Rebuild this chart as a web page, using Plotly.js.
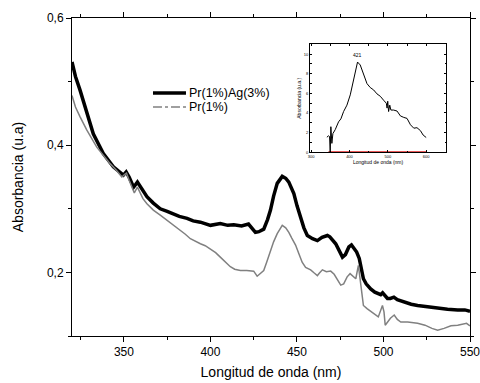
<!DOCTYPE html>
<html><head><meta charset="utf-8">
<script src="https://cdn.plot.ly/plotly-3.0.1.min.js"></script>
<style>html,body{margin:0;padding:0;background:#fff}#chart{width:480px;height:383px}</style>
</head><body><div id="chart"></div>
<script>
// Main spectra: wavelength (nm) and absorbance (u.a)
const agX = [320,322,324.6,328.5,332.3,338.1,343.9,349.7,351.3,353,355.6,357.8,360,363.3,367,371,375,378.7,382,386.5,390,394.2,400,405.7,410,413.5,418,422,424,426,428,430.8,433,434.7,436.5,438.6,441.5,443.5,445.3,448.2,450,452.1,454,456,459,461.8,464.5,467.6,469,472.4,474.5,476.3,478,480,481.5,483,484.5,486,487.5,488.4,490,492.6,495,498.4,499.5,500.5,502.3,504,506,508,512,516,519.7,525,531.3,537,542.9,547,550];
const agY = [0.531,0.508,0.487,0.450,0.418,0.387,0.366,0.353,0.358,0.350,0.334,0.342,0.332,0.319,0.309,0.300,0.296,0.292,0.288,0.285,0.281,0.279,0.274,0.277,0.274,0.275,0.273,0.276,0.270,0.263,0.264,0.268,0.283,0.298,0.320,0.340,0.351,0.348,0.342,0.324,0.305,0.287,0.270,0.258,0.253,0.250,0.255,0.258,0.256,0.245,0.232,0.224,0.228,0.240,0.243,0.237,0.232,0.222,0.200,0.190,0.182,0.174,0.169,0.165,0.168,0.164,0.159,0.159,0.161,0.157,0.153,0.150,0.148,0.146,0.143,0.142,0.141,0.141,0.139];
const prX = [320,322,324.6,328.5,334.3,338,342,345.5,348.8,350.5,351.5,353,355,356,357.8,359,361,363.3,367,371,374,376.8,380,382.6,385.5,388.4,391,394.2,397,400,403,405.7,408.5,411.5,414,417.3,421,425,427,428.5,430.8,432.5,434.7,436.5,438.6,441.5,443.5,445.3,447,449.2,451,453,455,457.9,460,461.8,463,464.7,467,469.5,471.5,473.5,475.3,477,479,480.7,482.5,484,485.5,486.5,487.5,488.4,490.5,492.5,494.6,497,499.4,500.3,501,502.5,504,506.2,508,510,514,519.7,524,528,531.3,535,539,542.9,546,548,550];
const prY = [0.478,0.460,0.445,0.424,0.397,0.384,0.371,0.361,0.350,0.354,0.356,0.345,0.332,0.325,0.334,0.328,0.316,0.308,0.298,0.290,0.284,0.277,0.271,0.266,0.260,0.253,0.249,0.245,0.242,0.237,0.231,0.224,0.216,0.209,0.205,0.203,0.203,0.202,0.194,0.198,0.203,0.216,0.235,0.248,0.261,0.274,0.270,0.263,0.254,0.243,0.230,0.216,0.208,0.204,0.199,0.195,0.199,0.204,0.201,0.202,0.197,0.187,0.180,0.182,0.193,0.198,0.194,0.190,0.211,0.190,0.160,0.148,0.143,0.139,0.135,0.130,0.148,0.138,0.117,0.122,0.128,0.133,0.126,0.122,0.122,0.120,0.117,0.112,0.109,0.112,0.116,0.117,0.119,0.120,0.116];
// Inset spectrum
const inX = [341,345.3,348,349.7,351.4,354,356.7,362.8,371.5,377.6,384.6,393.3,402,409,415,421,428,437,445.6,454,463,471.7,480.5,489,496,498,499.7,502,505,508,515,524,532.8,541.5,550,559,567.7,576,585,592,600];
const inY = [1.53,1.67,1.6,0,2.6,0.9,1.9,2.3,3.1,3.4,4.15,4.8,5.85,7.0,8.2,9.2,8.9,7.9,7.0,6.6,6.35,5.95,5.7,5.3,5.0,4.5,5.2,4.15,4.8,4.3,4.3,4.2,3.7,3.55,3.45,2.8,2.45,2.5,2.2,1.75,1.5];
const baseX = [345, 600];
const baseY = [0, 0];
const peakX = 421, peakY = 9.2, peakLabel = '421';
const names = ['Pr(1%)Ag(3%)', 'Pr(1%)'];

const F = 'Liberation Sans, Arial, sans-serif';
const traces = [
  {x: agX, y: agY, type:'scatter', mode:'lines', name:names[0], line:{color:'#000', width:3.5}, xaxis:'x', yaxis:'y'},
  {x: prX, y: prY, type:'scatter', mode:'lines', name:names[1], line:{color:'#808080', width:1.5}, xaxis:'x', yaxis:'y'},
  {x: baseX, y: baseY, type:'scatter', mode:'lines', line:{color:'#e02020', width:2}, xaxis:'x2', yaxis:'y2'},
  {x: inX, y: inY, type:'scatter', mode:'lines', line:{color:'#000', width:1}, xaxis:'x2', yaxis:'y2'}
];
const axCommon = {showline:true, linecolor:'#000', linewidth:1, mirror:'ticks', ticks:'outside', tickcolor:'#000', showgrid:false, zeroline:false, ticklabeloverflow:'allow'};
// custom compact legend (paper coords)
const legRows = [
  {y:0.764, color:'#000', width:3.5, dash:'solid'},
  {y:0.720, color:'#808080', width:1.5, dash:'dashdot'}
];
const shapes = legRows.map(r => ({type:'line', xref:'paper', yref:'paper', x0:0.2035, x1:0.2864, y0:r.y, y1:r.y, line:{color:r.color, width:r.width, dash:r.dash}}));
const legAnn = legRows.map((r,i) => ({xref:'paper', yref:'paper', x:0.292, y:r.y, xanchor:'left', yanchor:'middle', text:names[i], showarrow:false, borderpad:0, font:{size:12.5, family:F, color:'#000'}}));
const layout = {
  width:480, height:383,
  margin:{l:72, r:10, t:18, b:47},
  paper_bgcolor:'#fff', plot_bgcolor:'#fff',
  separators:',.',
  font:{family:F, color:'#000', size:12},
  showlegend:false,
  shapes: shapes,
  xaxis: Object.assign({}, axCommon, {range:[320,550], dtick:50, tick0:350, ticklen:5, tickfont:{size:12},
    minor:{dtick:25, tick0:325, ticks:'outside', ticklen:3, tickcolor:'#000'},
    title:{text:'Longitud de onda (nm)', font:{size:14}, standoff:8}}),
  yaxis: Object.assign({}, axCommon, {range:[0.1,0.6], dtick:0.2, tick0:0.2, tickformat:'.1f', ticklen:5, tickfont:{size:12},
    minor:{dtick:0.1, tick0:0.1, ticks:'outside', ticklen:3, tickcolor:'#000'},
    title:{text:'Absorbancia (u.a)', font:{size:14}, standoff:20}}),
  xaxis2: Object.assign({}, axCommon, {domain:[0.598,0.940], anchor:'y2', range:[297,652], dtick:100, tick0:300, ticklen:2, tickfont:{size:4},
    ticks:'inside', minor:{dtick:50, ticks:'inside', ticklen:1.5, tickcolor:'#000'},
    title:{text:'Longitud de onda (nm)', font:{size:5}, standoff:1}}),
  yaxis2: Object.assign({}, axCommon, {domain:[0.578,0.917], anchor:'x2', range:[0,11], dtick:2, tick0:0, ticklen:2, tickfont:{size:4},
    ticks:'inside', minor:{dtick:1, ticks:'inside', ticklen:1.5, tickcolor:'#000'},
    title:{text:'Absorbancia (u.a.)', font:{size:5}, standoff:1}}),
  annotations:[{x:peakX, y:peakY, xref:'x2', yref:'y2', text:peakLabel, showarrow:false, yanchor:'bottom', yshift:2, font:{size:5, family:F}}].concat(legAnn)
};
Plotly.newPlot('chart', traces, layout, {displayModeBar:false, staticPlot:true});
</script></body></html>
